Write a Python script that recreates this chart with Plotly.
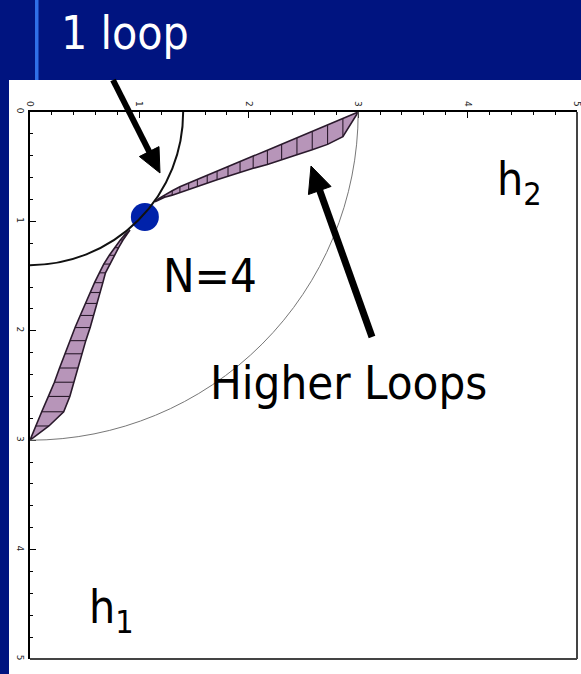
import math
import plotly.graph_objects as go

# ---- figure geometry (pixels) ----
W, H = 581, 674
ML, MR, MT, MB = 30, 4, 112, 15
PW = W - ML - MR
PH = H - MT - MB


def pxx(xp):
    return (xp - ML) / PW


def pxy(yp):
    return (H - MB - yp) / PH


# ---- data ----
# upper shaded lobe: sampled along h2, top and bottom edges in h1
upper_h2 = [3.0, 2.86, 2.72, 2.58, 2.44, 2.30, 2.17, 2.04, 1.92, 1.81,
            1.71, 1.62, 1.53, 1.45, 1.37, 1.30, 1.23, 1.18, 1.143]
upper_h1_top = [0.0, 0.06, 0.12, 0.179, 0.238, 0.294, 0.349, 0.403, 0.454, 0.50,
                0.542, 0.578, 0.614, 0.649, 0.683, 0.72, 0.758, 0.79, 0.82]
upper_h1_bot = [0.0, 0.226, 0.296, 0.346, 0.39, 0.435, 0.48, 0.515, 0.55, 0.587,
                0.62, 0.65, 0.68, 0.707, 0.735, 0.76, 0.78, 0.80, 0.82]

# lower shaded lobe: sampled along h1, left and right edges in h2
lower_h1 = [3.0, 2.87, 2.74, 2.60, 2.47, 2.34, 2.21, 2.09, 1.97, 1.86,
            1.75, 1.65, 1.56, 1.47, 1.39, 1.31, 1.24, 1.17, 1.12, 1.079]
lower_h2_left = [0.0, 0.05, 0.107, 0.168, 0.223, 0.27, 0.319, 0.365, 0.412, 0.459,
                 0.506, 0.55, 0.59, 0.634, 0.674, 0.725, 0.774, 0.826, 0.868, 0.914]
lower_h2_right = [0.0, 0.173, 0.308, 0.364, 0.40, 0.438, 0.476, 0.51, 0.55, 0.582,
                  0.614, 0.642, 0.666, 0.69, 0.735, 0.775, 0.81, 0.85, 0.885, 0.914]

# boundary arcs (radius in h-space) and the one-loop point
arc_radii = [1.4, 3.0]
dot_h2 = [1.05]
dot_h1 = [0.96]

tick_vals = [0, 1, 2, 3, 4, 5]
tick_text = ["0", "1", "2", "3", "4", "5"]

HEADER_BLUE = "#001480"
LILAC = "#B795B9"
EDGE = "#2a1a2c"

fig = go.Figure()

# upper lobe fill + outline
fig.add_trace(go.Scatter(
    x=upper_h2 + upper_h2[::-1],
    y=upper_h1_top + upper_h1_bot[::-1],
    mode="lines", fill="toself", fillcolor=LILAC,
    line=dict(color=EDGE, width=1.6), hoverinfo="skip", showlegend=False))

# lower lobe fill + outline
fig.add_trace(go.Scatter(
    x=lower_h2_left + lower_h2_right[::-1],
    y=lower_h1 + lower_h1[::-1],
    mode="lines", fill="toself", fillcolor=LILAC,
    line=dict(color=EDGE, width=1.6), hoverinfo="skip", showlegend=False))

# hatch lines across both lobes
hx, hy = [], []
for i in range(1, len(upper_h2) - 1):
    hx += [upper_h2[i], upper_h2[i], None]
    hy += [upper_h1_top[i], upper_h1_bot[i], None]
for i in range(1, len(lower_h1) - 1):
    hx += [lower_h2_left[i], lower_h2_right[i], None]
    hy += [lower_h1[i], lower_h1[i], None]
fig.add_trace(go.Scatter(x=hx, y=hy, mode="lines",
                         line=dict(color=EDGE, width=1.1),
                         hoverinfo="skip", showlegend=False))

# one-loop point
fig.add_trace(go.Scatter(x=dot_h2, y=dot_h1, mode="markers",
                         marker=dict(size=28, color="#0022AA"),
                         cliponaxis=False, hoverinfo="skip", showlegend=False))

shapes = [
    # white slide body
    dict(type="rect", xref="paper", yref="paper", layer="below",
         x0=pxx(9), x1=pxx(W + 2), y0=pxy(H + 2), y1=pxy(80),
         fillcolor="white", line=dict(width=0)),
    # light accent bar in the header
    dict(type="rect", xref="paper", yref="paper", layer="above",
         x0=pxx(35), x1=pxx(38.5), y0=pxy(80), y1=pxy(-2),
         fillcolor="#2f6fe8", line=dict(width=0)),
    # right and bottom frame lines
    dict(type="line", xref="paper", yref="paper", x0=1, x1=1, y0=0, y1=1,
         line=dict(color="#444", width=2)),
    dict(type="line", xref="paper", yref="paper", x0=0, x1=1, y0=0, y1=0,
         line=dict(color="#444", width=2)),
]
# arcs centred on the origin
arc_styles = [dict(color="#111", width=2), dict(color="#777", width=1)]
for r, st in zip(arc_radii, arc_styles):
    shapes.append(dict(type="circle", xref="x", yref="y", layer="above",
                       x0=-r, x1=r, y0=-r, y1=r, line=st))


def arrow_shapes(tail, tip, width, head_len, head_w):
    """Thick pointer arrow (shaft + triangular head), pixel inputs."""
    dx, dy = tip[0] - tail[0], tip[1] - tail[1]
    n = math.hypot(dx, dy)
    ux, uy = dx / n, dy / n
    bx, by = tip[0] - head_len * ux, tip[1] - head_len * uy
    px_, py_ = -uy, ux
    c1 = (bx + head_w / 2 * px_, by + head_w / 2 * py_)
    c2 = (bx - head_w / 2 * px_, by - head_w / 2 * py_)
    shaft = dict(type="line", xref="paper", yref="paper", layer="above",
                 x0=pxx(tail[0]), y0=pxy(tail[1]),
                 x1=pxx(bx + 2 * ux), y1=pxy(by + 2 * uy),
                 line=dict(color="black", width=width))
    path = "M{:.5f},{:.5f} L{:.5f},{:.5f} L{:.5f},{:.5f} Z".format(
        pxx(tip[0]), pxy(tip[1]), pxx(c1[0]), pxy(c1[1]), pxx(c2[0]), pxy(c2[1]))
    head = dict(type="path", xref="paper", yref="paper", layer="above",
                path=path, fillcolor="black", line=dict(color="black", width=1))
    return [shaft, head]


shapes += arrow_shapes((113, 80), (160, 173), 6, 24, 22)
shapes += arrow_shapes((372, 337), (311, 166), 7, 26, 24)

TXT_FONT = "Tahoma, 'DejaVu Sans Condensed', 'DejaVu Sans', sans-serif"

annotations = [
    dict(text="1 loop", xref="paper", yref="paper", x=pxx(125), y=pxy(33),
         xanchor="center", yanchor="middle", showarrow=False,
         font=dict(family=TXT_FONT, size=46, color="white")),
    dict(text="N=4", xref="paper", yref="paper", x=pxx(210), y=pxy(275),
         xanchor="center", yanchor="middle", showarrow=False,
         font=dict(family=TXT_FONT, size=47, color="black")),
    dict(text="Higher Loops", xref="paper", yref="paper", x=pxx(348), y=pxy(382),
         xanchor="center", yanchor="middle", showarrow=False,
         font=dict(family=TXT_FONT, size=47, color="black")),
    dict(text="h<sub>2</sub>", xref="paper", yref="paper", x=pxx(519), y=pxy(182),
         xanchor="center", yanchor="middle", showarrow=False,
         font=dict(family=TXT_FONT, size=46, color="black")),
    dict(text="h<sub>1</sub>", xref="paper", yref="paper", x=pxx(111), y=pxy(610),
         xanchor="center", yanchor="middle", showarrow=False,
         font=dict(family=TXT_FONT, size=46, color="black")),
]

axis_common = dict(
    tickmode="array", tickvals=tick_vals, ticktext=tick_text, tickangle=90,
    ticks="inside", ticklen=6, tickwidth=1, tickcolor="black",
    minor=dict(tickmode="linear", tick0=0, dtick=0.2, ticks="inside",
               ticklen=3, tickwidth=1, tickcolor="black", showgrid=False),
    showline=True, linecolor="black", linewidth=2, mirror=False,
    showgrid=False, zeroline=False, ticklabeloverflow="allow",
    automargin=False,
    tickfont=dict(family="DejaVu Sans", size=9, color="#222"),
)

fig.update_layout(
    width=W, height=H,
    margin=dict(l=ML, r=MR, t=MT, b=MB, pad=0, autoexpand=False),
    paper_bgcolor=HEADER_BLUE, plot_bgcolor="white",
    xaxis=dict(side="top", range=[0, 5], **axis_common),
    yaxis=dict(range=[5, 0], **axis_common),
    shapes=shapes, annotations=annotations,
    showlegend=False,
)

fig.write_html("out.html")
